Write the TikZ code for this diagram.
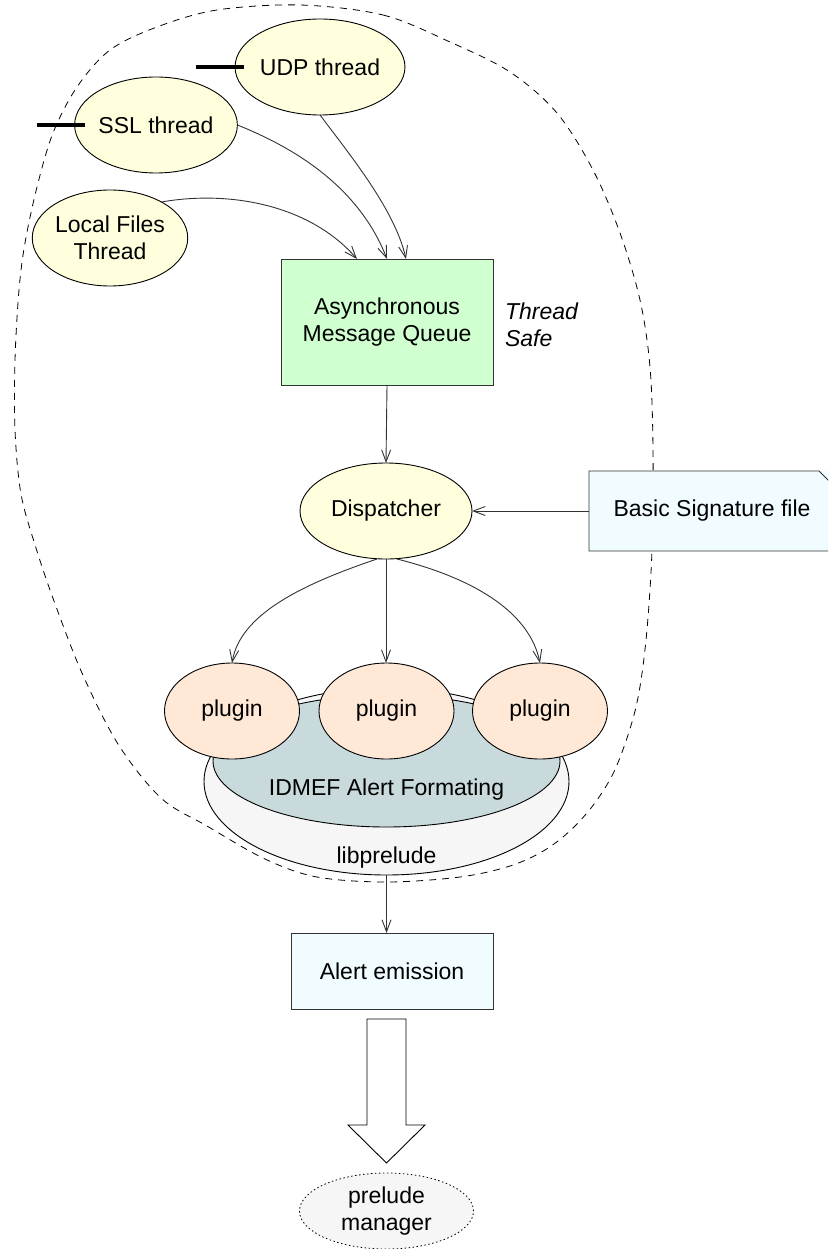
\documentclass[tikz,border=0pt]{standalone}
\usepackage{fontspec}
\setmainfont{Liberation Sans}
\usetikzlibrary{shapes.geometric,arrows.meta,calc}
\definecolor{threadfill}{RGB}{255,255,221}
\definecolor{queuefill}{RGB}{208,255,208}
\definecolor{filefill}{RGB}{240,252,255}
\definecolor{pluginfill}{RGB}{255,232,214}
\definecolor{idmeffill}{RGB}{200,218,220}
\definecolor{libfill}{RGB}{246,246,246}
\definecolor{edgegray}{RGB}{51,51,51}

\begin{document}
\begin{tikzpicture}[x=1pt,y=-1pt,
  font=\fontsize{23}{27}\selectfont,
  every node/.style={inner sep=0pt, outer sep=0pt},
  oval/.style={ellipse, draw=black, line width=0.9pt, align=center},
  thread/.style={oval, fill=threadfill, minimum width=154pt, minimum height=96pt},
  plugin/.style={oval, fill=pluginfill, minimum width=135pt, minimum height=96pt},
  flow/.style={draw=edgegray, line width=0.9pt, -{Straight Barb[length=12pt,width=9pt]}},
  socket/.style={line width=3.5pt, line cap=butt},
  boxed/.style={draw=edgegray, line width=0.9pt, align=center}
]
% page and clipping
\path[use as bounding box, fill=white] (0,0) rectangle (828,1249);
\clip (0,0) rectangle (828,1249);

% process boundary
\draw[dash pattern=on 7pt off 6pt, line width=0.8pt]
  plot[smooth cycle, tension=0.55] coordinates {
    (300,5) (383,15) (450,42) (510,72) (557,113) (593,170) (620,233)
    (640,300) (650,367) (653,450) (652,550) (646,640) (636,707)
    (617,765) (597,800) (573,828) (545,850) (510,866) (460,877)
    (387,882) (317,877) (265,859) (207,826) (161,798) (118,744)
    (82,673) (54,601) (36,548) (21,494) (15,430) (15,360) (19,290)
    (25,243) (37,187) (53,133) (77,87) (110,50) (157,27) (217,10)};

% input threads
\node[thread] (udp) at (320,67) {UDP thread};
\node[thread] (ssl) at (156,125) {SSL thread};
\node[thread] (lf) at (110,238) {Local Files\\Thread};
\draw[socket] ($(udp.west)+(-39pt,0pt)$) -- ($(udp.west)+(9pt,0pt)$);
\draw[socket] ($(ssl.west)+(-38pt,0pt)$) -- ($(ssl.west)+(10pt,0pt)$);

% message queue
\node[boxed, fill=queuefill, minimum width=212pt, minimum height=126pt]
  (queue) at (387,322) {Asynchronous\\Message Queue};
\node[anchor=west, align=left, font=\fontsize{23}{27}\selectfont\itshape]
  (safe) at (505,325) {Thread\\Safe};

\draw[flow] (lf.35) .. controls (230,190) and (310,205) .. ($(queue.north)+(-30pt,0pt)$);
\draw[flow] (ssl.east) .. controls (300,150) and (360,190) .. (queue.north);
\draw[flow] (udp.south) .. controls (350,155) and (395,210) .. ($(queue.north)+(19pt,0pt)$);

% dispatcher and signature file
\node[oval, fill=threadfill, minimum width=172pt, minimum height=96pt]
  (disp) at (386,511) {Dispatcher};
\node[fill=filefill, minimum width=246pt, minimum height=80pt]
  (sig) at (712,511) {Basic Signature file};
\draw[edgegray, line width=0.9pt]
  (sig.south east) -- ($(sig.north east)+(0pt,-16pt)$)
  -- ($(sig.north east)+(-16pt,0pt)$) -- (sig.north west)
  -- (sig.south west) -- cycle;

\draw[flow] (queue.south) -- (disp.north);
\draw[flow] (sig.west) -- (disp.east);

% libprelude, alert formatting and plugins
\node[oval, fill=libfill, minimum width=365pt, minimum height=187pt]
  (lib) at (386.5,781.5) {};
\node[oval, fill=idmeffill, minimum width=347pt, minimum height=132pt]
  (idmef) at (386.5,761) {};
\node (idmeftext) at (386.5,790) {IDMEF Alert Formating};
\node (libtext) at (386.5,858) {libprelude};

\node[plugin] (p1) at (232,711) {plugin};
\node[plugin] (p2) at (386.5,711) {plugin};
\node[plugin] (p3) at (540,711) {plugin};

\draw[flow] ($(disp.south)+(-9pt,0pt)$) .. controls (300,585) and (240,615) .. (p1.north);
\draw[flow] (disp.south) -- (disp.south |- p2.north);
\draw[flow] ($(disp.south)+(11pt,0pt)$) .. controls (480,580) and (530,615) .. (p3.north);

% alert emission
\node[boxed, fill=filefill, minimum width=202pt, minimum height=76pt]
  (alert) at (392,971) {Alert emission};
\draw[flow] (lib.south) -- (lib.south |- alert.north);

% prelude manager
\node[ellipse, draw=black, line width=0.8pt, dash pattern=on 1.5pt off 2.5pt,
  fill=libfill, minimum width=174pt, minimum height=76pt, align=center]
  (mgr) at (386.5,1211) {prelude\\manager};

% hollow arrow towards the manager
\coordinate (shaft) at (lib.south |- alert.south);
\coordinate (tip) at ($(shaft |- mgr.north)+(0pt,10pt)$);
\draw[line width=0.9pt, fill=white]
  ($(shaft)+(-19.5pt,-10pt)$) -- ($(shaft)+(19.5pt,-10pt)$)
  -- ($(shaft)+(19.5pt,-116pt)$) -- ($(shaft)+(38.5pt,-116pt)$)
  -- (tip)
  -- ($(shaft)+(-38.5pt,-116pt)$) -- ($(shaft)+(-19.5pt,-116pt)$) -- cycle;
\end{tikzpicture}
\end{document}
